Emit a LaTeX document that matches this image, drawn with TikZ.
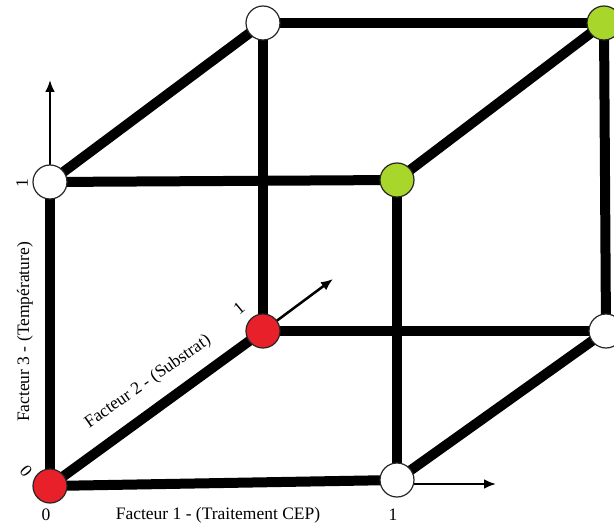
\documentclass[tikz,border=0pt]{standalone}
\usepackage{fontspec}
\setmainfont{Liberation Serif}
\usetikzlibrary{arrows.meta}
\definecolor{vred}{HTML}{E8202A}
\definecolor{vgreen}{HTML}{A8D62A}
\begin{document}
\begin{tikzpicture}[x=1pt,y=-1pt,
  vtx/.style={circle,draw=black!85,line width=1.2pt,minimum size=34pt,inner sep=0pt},
  edge/.style={line width=10pt,black},
  axis/.style={line width=2.5pt,black,-{Latex[length=12pt,width=10pt]}},
  lbl/.style={font=\fontsize{17.5}{20}\selectfont,inner sep=0pt}]
\useasboundingbox (0,0) rectangle (614,524);
% vertices
\coordinate (A) at (50,486);
\coordinate (B) at (397,480);
\coordinate (C) at (50,182);
\coordinate (D) at (397,180);
\coordinate (E) at (263,331);
\coordinate (F) at (606,331);
\coordinate (G) at (263,23);
\coordinate (H) at (604,23);
% axis arrow coordinates
\coordinate (x1s) at (410,484);
\coordinate (x1e) at (496,484);
\coordinate (z1e) at (50,80);
\coordinate (y1e) at (333,279);
% edges
\draw[edge] (A) -- (B);
\draw[edge] (A) -- (C);
\draw[edge] (A) -- (E);
\draw[edge] (B) -- (D);
\draw[edge] (B) -- (F);
\draw[edge] (C) -- (D);
\draw[edge] (C) -- (G);
\draw[edge] (D) -- (H);
\draw[edge] (E) -- (F);
\draw[edge] (E) -- (G);
\draw[edge] (G) -- (H);
\draw[edge] (H) -- (F);
% axes
\draw[axis] (x1s) -- (x1e);
\draw[axis] (C) -- (z1e);
\draw[axis] (E) -- (y1e);
% vertex nodes
\node[vtx,fill=vred] (nA) at (A) {};
\node[vtx,fill=white] (nB) at (B) {};
\node[vtx,fill=white] (nC) at (C) {};
\node[vtx,fill=vgreen] (nD) at (D) {};
\node[vtx,fill=vred] (nE) at (E) {};
\node[vtx,fill=white] (nF) at (F) {};
\node[vtx,fill=white] (nG) at (G) {};
\node[vtx,fill=vgreen] (nH) at (H) {};
% labels
\node[lbl] (l0x) at (46,515) {0};
\node[lbl] (l1x) at (393,515) {1};
\node[lbl] (fx) at (218,515) {Facteur 1 - (Traitement CEP)};
\node[lbl,rotate=90] (l1z) at (22,183) {1};
\node[lbl,rotate=-50] (l0z) at (26,471) {0};
\node[lbl,rotate=90] (fz) at (25,332) {Facteur 3 - (Température)};
\node[lbl,rotate=35] (fy) at (148,382) {Facteur 2 - (Substrat)};
\node[lbl,rotate=40] (l1y) at (239,308) {1};
\end{tikzpicture}
\end{document}
